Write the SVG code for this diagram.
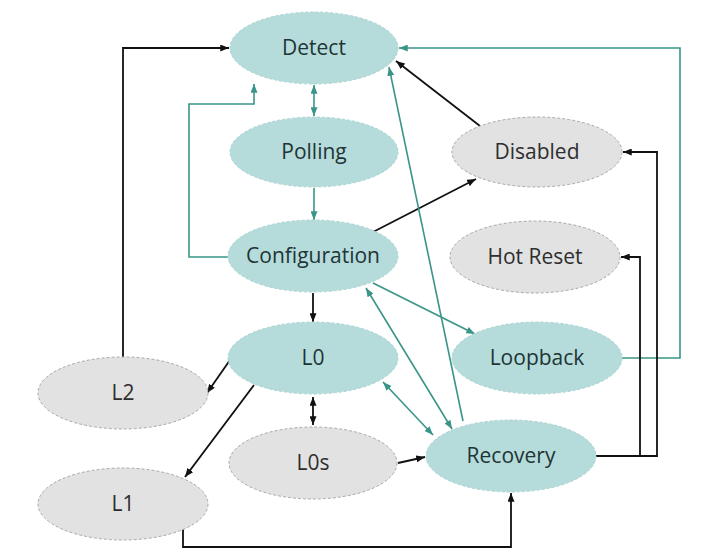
<svg xmlns="http://www.w3.org/2000/svg" width="720" height="555" viewBox="0 0 720 555">
<defs>
<marker id="ab" viewBox="0 0 10 8" refX="10" refY="4" markerWidth="9" markerHeight="7" markerUnits="userSpaceOnUse" orient="auto-start-reverse"><path d="M0,0 L10,4 L0,8 Z" fill="#111"/></marker>
<marker id="at" viewBox="0 0 10 8" refX="10" refY="4" markerWidth="9" markerHeight="7" markerUnits="userSpaceOnUse" orient="auto-start-reverse"><path d="M0,0 L10,4 L0,8 Z" fill="#3a9588"/></marker>
<style>
.t ellipse{fill:#b5dcdb;stroke:#a9d3d1;stroke-width:1;stroke-dasharray:3 2}
.g ellipse{fill:#e2e2e2;stroke:#a8a8a8;stroke-width:1;stroke-dasharray:3 2}
text{font-family:"Open Sans","Noto Sans","DejaVu Sans",sans-serif;font-size:21px;text-anchor:middle}
.t text{fill:#1e3435}
.g text{fill:#2e2e2e}
.cb{fill:none;stroke:#111;stroke-width:1.8;marker-end:url(#ab)}
.ct{fill:none;stroke:#3a9588;stroke-width:1.6;marker-end:url(#at)}
.d{marker-start:url(#at)}
.db{marker-start:url(#ab)}
</style>
</defs>
<rect width="720" height="555" fill="#fff"/>
<g id="connectors">
<path class="ct d" d="M314,85 V116"/>
<path class="ct" d="M314,188 V220"/>
<path class="ct" d="M228,257 H189 V104 H254 V84"/>
<path class="cb" d="M373,232 L476,179"/>
<path class="cb" d="M480,126 L396,61"/>
<path class="ct" d="M622,358 H680 V48 H399"/>
<path class="ct" d="M463,421 L389,67"/>
<path class="ct d" d="M366,288 L452,429"/>
<path class="ct d" d="M383,382 L433,435"/>
<path class="ct" d="M373,283 L475,334"/>
<path class="cb" d="M313,293 V322"/>
<path class="cb" d="M230,360 L207,393"/>
<path class="cb" d="M254,385 L185,477"/>
<path class="cb db" d="M313,397 V425"/>
<path class="cb" d="M398,463 L425,457"/>
<path class="cb" d="M183,528 V547 H511 V493"/>
<path class="cb" d="M596,456 H640 V257 H621"/>
<path class="cb" d="M640,456 H657 V152 H623"/>
<path class="cb" d="M123,358 V48 H229"/>
</g>
<g id="detect" class="t"><ellipse cx="314" cy="48" rx="84" ry="36"/><text x="314" y="55">Detect</text></g>
<g id="polling" class="t"><ellipse cx="314" cy="152" rx="84" ry="35"/><text x="314" y="159">Polling</text></g>
<g id="configuration" class="t"><ellipse cx="313" cy="256" rx="85" ry="36"/><text x="313" y="263">Configuration</text></g>
<g id="l0" class="t"><ellipse cx="313" cy="358" rx="85" ry="36"/><text x="313" y="365">L0</text></g>
<g id="disabled" class="g"><ellipse cx="537" cy="152" rx="85" ry="35"/><text x="537" y="159">Disabled</text></g>
<g id="hotreset" class="g"><ellipse cx="535" cy="257" rx="85" ry="36"/><text x="535" y="264">Hot Reset</text></g>
<g id="loopback" class="t"><ellipse cx="537" cy="358" rx="85" ry="36"/><text x="537" y="365">Loopback</text></g>
<g id="recovery" class="t"><ellipse cx="511" cy="456" rx="85" ry="36"/><text x="511" y="463">Recovery</text></g>
<g id="l2" class="g"><ellipse cx="123" cy="393" rx="85" ry="36"/><text x="123" y="400">L2</text></g>
<g id="l1" class="g"><ellipse cx="123" cy="504" rx="85" ry="36"/><text x="123" y="511">L1</text></g>
<g id="l0s" class="g"><ellipse cx="313" cy="463" rx="84" ry="36"/><text x="313" y="470">L0s</text></g>
</svg>
